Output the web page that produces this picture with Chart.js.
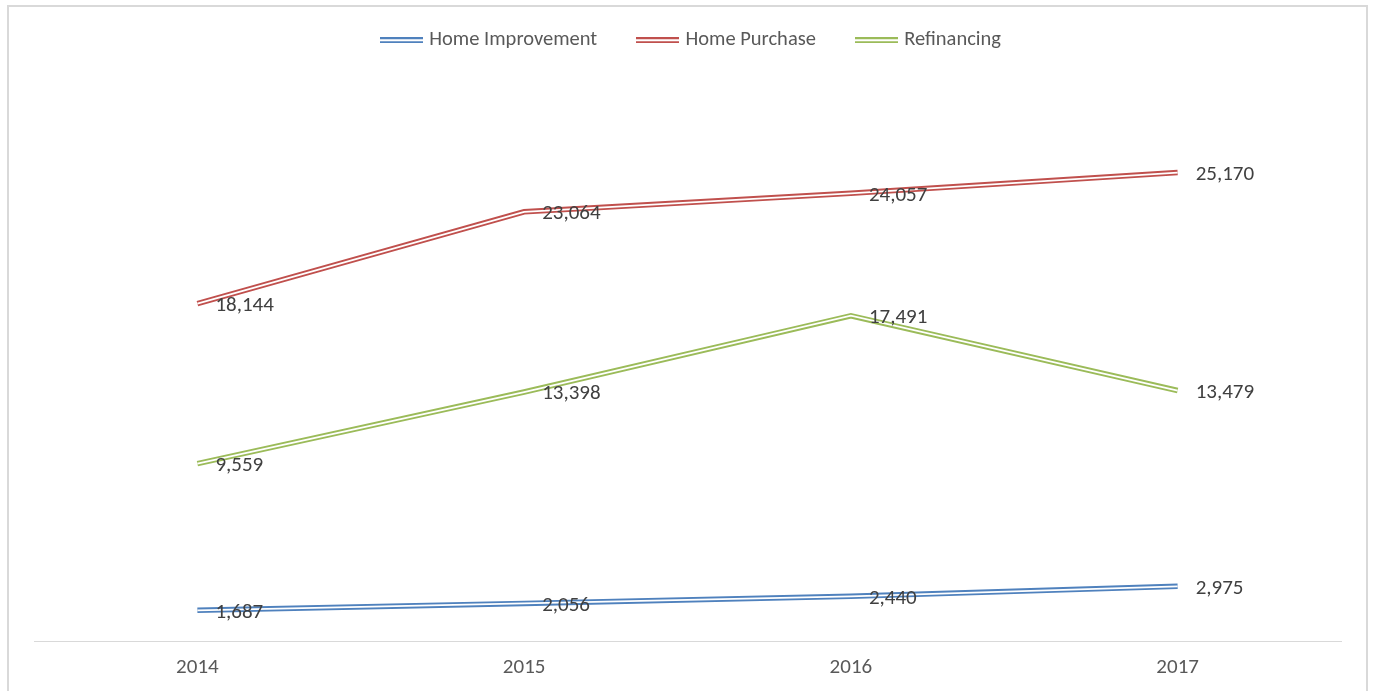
<!DOCTYPE html>
<html><head><meta charset="utf-8">
<script src="https://cdn.jsdelivr.net/npm/chart.js@4"></script>
<style>html,body{margin:0;padding:0;background:#fff;overflow:hidden}#wrap{position:relative;width:1373px;height:691px}</style>
</head><body><div id="wrap"><canvas id="c" width="1373" height="691"></canvas></div>
<script>
const categories = ['2014', '2015', '2016', '2017'];
const seriesNames = ['Home Improvement', 'Home Purchase', 'Refinancing'];
const homeImprovement = [1687, 2056, 2440, 2975];
const homePurchase = [18144, 23064, 24057, 25170];
const refinancing = [9559, 13398, 17491, 13479];
const seriesColors = ['#4F81BD', '#C0504D', '#9BBB59'];

const FONT = 'Carlito, Calibri, Lato, sans-serif';

function legendLine(color) {
  const cv = document.createElement('canvas');
  cv.width = 43; cv.height = 6;
  const g = cv.getContext('2d');
  g.fillStyle = color; g.fillRect(0, 0, 43, 6);
  g.fillStyle = '#fff'; g.fillRect(0, 2, 43, 2);
  return cv;
}

const seriesData = [homeImprovement, homePurchase, refinancing];
const datasets = seriesNames.map((name, i) => ({
  label: name,
  data: seriesData[i],
  borderColor: seriesColors[i],
  backgroundColor: seriesColors[i],
  borderWidth: 5.5,
  pointRadius: 0,
  pointHoverRadius: 0,
  tension: 0,
  fill: false,
  pointStyle: legendLine(seriesColors[i])
}));

const frame = {
  id: 'frame',
  beforeDraw(chart) {
    const c = chart.ctx;
    c.save();
    c.strokeStyle = '#d9d9d9';
    c.lineWidth = 2;
    c.strokeRect(8, 6, 1359, 700);
    c.restore();
  }
};

const legendGap = {
  id: 'legendGap',
  beforeLayout(chart) {
    const lg = chart.legend;
    if (lg && !lg._gapPatched) {
      const f = lg.fit;
      lg.fit = function () { f.call(this); this.height += 22; };
      lg._gapPatched = true;
    }
  },
  afterLayout(chart) {
    const lg = chart.legend;
    if (lg) { lg.left += 5; lg.right += 5; }
  }
};

const doubleLine = {
  id: 'doubleLine',
  afterDatasetsDraw(chart) {
    const c = chart.ctx;
    c.save();
    chart.data.datasets.forEach((ds, i) => {
      const meta = chart.getDatasetMeta(i);
      c.beginPath();
      meta.data.forEach((p, j) => { if (j === 0) c.moveTo(p.x, p.y); else c.lineTo(p.x, p.y); });
      c.strokeStyle = '#ffffff';
      c.lineWidth = 1.8;
      c.stroke();
    });
    c.fillStyle = '#404040';
    c.font = '21px ' + FONT;
    c.textAlign = 'left';
    c.textBaseline = 'middle';
    chart.data.datasets.forEach((ds, i) => {
      const meta = chart.getDatasetMeta(i);
      meta.data.forEach((p, j) => {
        c.fillText(ds.data[j].toLocaleString('en-US'), p.x + 18, p.y + 2);
      });
    });
    c.restore();
  }
};

new Chart(document.getElementById('c'), {
  type: 'line',
  data: { labels: categories, datasets },
  plugins: [frame, legendGap, doubleLine],
  options: {
    responsive: false,
    animation: false,
    devicePixelRatio: 1,
    layout: { padding: { left: 34, right: 32, top: -13, bottom: -2 } },
    plugins: {
      legend: {
        position: 'top',
        labels: {
          usePointStyle: true,
          pointStyleWidth: 35,
          padding: 43,
          color: '#595959',
          font: { family: FONT, size: 20.5 }
        }
      },
      tooltip: { enabled: false }
    },
    scales: {
      x: {
        offset: true,
        grid: { display: false, drawTicks: false },
        border: { display: true, color: '#d9d9d9', width: 1 },
        ticks: { color: '#595959', padding: 13, font: { family: FONT, size: 21 } }
      },
      y: {
        display: false,
        min: 0,
        max: 30000
      }
    }
  }
});
</script></body></html>
